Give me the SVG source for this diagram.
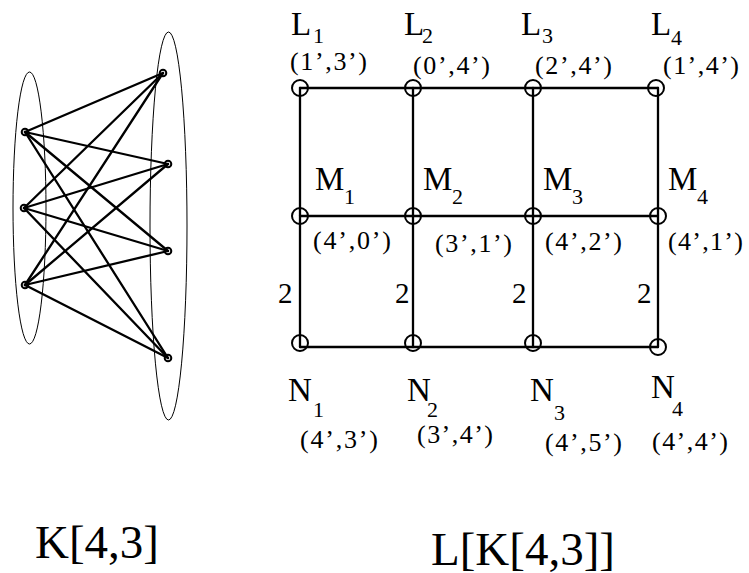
<svg xmlns="http://www.w3.org/2000/svg" width="749" height="573" viewBox="0 0 749 573">
<style>
text { font-family: "Liberation Serif", "Tinos", "Nimbus Roman", "Times New Roman", "DejaVu Serif", serif; fill: #000; }
.big { font-size: 33px; }
.sub { font-size: 22px; }
.co { font-size: 26px; }
.two { font-size: 29px; }
.title { font-size: 47px; }
.e { stroke: #000; stroke-width: 2.3; fill: none; stroke-linecap: round; }
.v { stroke: #000; stroke-width: 2; fill: none; }
.sv { stroke: #000; stroke-width: 2; fill: none; }
.ell { stroke: #000; stroke-width: 1; fill: none; }
</style>
<rect width="749" height="573" fill="#fff"/>
<g id="k43">
<ellipse class="ell" cx="29.5" cy="208" rx="16.5" ry="136"/>
<ellipse class="ell" cx="168.5" cy="226" rx="18.5" ry="194"/>
<g id="k43-edges">
<line class="e" x1="25" y1="132" x2="163" y2="73"/>
<line class="e" x1="25" y1="132" x2="168" y2="164"/>
<line class="e" x1="25" y1="132" x2="168" y2="251"/>
<line class="e" x1="25" y1="132" x2="168" y2="358"/>
<line class="e" x1="24" y1="208" x2="163" y2="73"/>
<line class="e" x1="24" y1="208" x2="168" y2="164"/>
<line class="e" x1="24" y1="208" x2="168" y2="251"/>
<line class="e" x1="24" y1="208" x2="168" y2="358"/>
<line class="e" x1="25" y1="285" x2="163" y2="73"/>
<line class="e" x1="25" y1="285" x2="168" y2="164"/>
<line class="e" x1="25" y1="285" x2="168" y2="251"/>
<line class="e" x1="25" y1="285" x2="168" y2="358"/>
</g>
<g id="k43-nodes">
<circle class="sv" cx="25" cy="132" r="3.3"/>
<circle class="sv" cx="24" cy="208" r="3.3"/>
<circle class="sv" cx="25" cy="285" r="3.3"/>
<circle class="sv" cx="163" cy="73" r="3.3"/>
<circle class="sv" cx="168" cy="164" r="3.3"/>
<circle class="sv" cx="168" cy="251" r="3.3"/>
<circle class="sv" cx="168" cy="358" r="3.3"/>
</g>
</g>
<g id="connectors">
<line class="e" x1="300" y1="88" x2="658" y2="88"/>
<line class="e" x1="300" y1="216" x2="658" y2="216"/>
<line class="e" x1="300" y1="347" x2="658" y2="347"/>
<line class="e" x1="300" y1="88" x2="300" y2="347"/>
<line class="e" x1="413" y1="88" x2="413" y2="347"/>
<line class="e" x1="533" y1="88" x2="533" y2="347"/>
<line class="e" x1="658" y1="88" x2="658" y2="347"/>
</g>
<g id="edge-labels">
<text class="two" x="278" y="303">2</text>
<text class="two" x="395" y="303">2</text>
<text class="two" x="512" y="303">2</text>
<text class="two" x="637" y="303">2</text>
</g>
<g id="L1"><circle class="v" cx="300" cy="88" r="8"/><text class="big" x="291" y="35">L</text><text class="sub" x="313" y="43">1</text><text class="co" x="290" y="70" textLength="77" lengthAdjust="spacing">(1’,3’)</text></g>
<g id="L2"><circle class="v" cx="413" cy="88" r="8"/><text class="big" x="404" y="35">L</text><text class="sub" x="422" y="43">2</text><text class="co" x="413" y="74" textLength="77" lengthAdjust="spacing">(0’,4’)</text></g>
<g id="L3"><circle class="v" cx="533" cy="88" r="8"/><text class="big" x="521" y="35">L</text><text class="sub" x="542" y="43">3</text><text class="co" x="535" y="74" textLength="77" lengthAdjust="spacing">(2’,4’)</text></g>
<g id="L4"><circle class="v" cx="656" cy="88" r="8"/><text class="big" x="651" y="35">L</text><text class="sub" x="671" y="45">4</text><text class="co" x="663" y="74" textLength="76" lengthAdjust="spacing">(1’,4’)</text></g>
<g id="M1"><circle class="v" cx="300" cy="216" r="8"/><text class="big" x="315" y="190">M</text><text class="sub" x="344" y="204">1</text><text class="co" x="313" y="249" textLength="78" lengthAdjust="spacing">(4’,0’)</text></g>
<g id="M2"><circle class="v" cx="413" cy="216" r="8"/><text class="big" x="423" y="190">M</text><text class="sub" x="452" y="204">2</text><text class="co" x="435" y="252" textLength="77" lengthAdjust="spacing">(3’,1’)</text></g>
<g id="M3"><circle class="v" cx="533" cy="216" r="8"/><text class="big" x="543" y="190">M</text><text class="sub" x="572" y="204">3</text><text class="co" x="545" y="250" textLength="77" lengthAdjust="spacing">(4’,2’)</text></g>
<g id="M4"><circle class="v" cx="658" cy="216" r="8"/><text class="big" x="668" y="190">M</text><text class="sub" x="697" y="204">4</text><text class="co" x="668" y="250" textLength="75" lengthAdjust="spacing">(4’,1’)</text></g>
<g id="N1"><circle class="v" cx="300" cy="343" r="8"/><text class="big" x="288" y="401">N</text><text class="sub" x="313" y="417">1</text><text class="co" x="300" y="448" textLength="78" lengthAdjust="spacing">(4’,3’)</text></g>
<g id="N2"><circle class="v" cx="413" cy="343" r="8"/><text class="big" x="407" y="401">N</text><text class="sub" x="427" y="417">2</text><text class="co" x="417" y="443" textLength="76" lengthAdjust="spacing">(3’,4’)</text></g>
<g id="N3"><circle class="v" cx="533" cy="343" r="8"/><text class="big" x="530" y="401">N</text><text class="sub" x="554" y="420">3</text><text class="co" x="545" y="451" textLength="77" lengthAdjust="spacing">(4’,5’)</text></g>
<g id="N4"><circle class="v" cx="658" cy="347" r="8"/><text class="big" x="651" y="398">N</text><text class="sub" x="672" y="416">4</text><text class="co" x="652" y="450" textLength="76" lengthAdjust="spacing">(4’,4’)</text></g>
<g id="titles">
<text class="title" x="35" y="558">K[4,3]</text>
<text class="title" x="431" y="565">L[K[4,3]]</text>
</g>
</svg>
